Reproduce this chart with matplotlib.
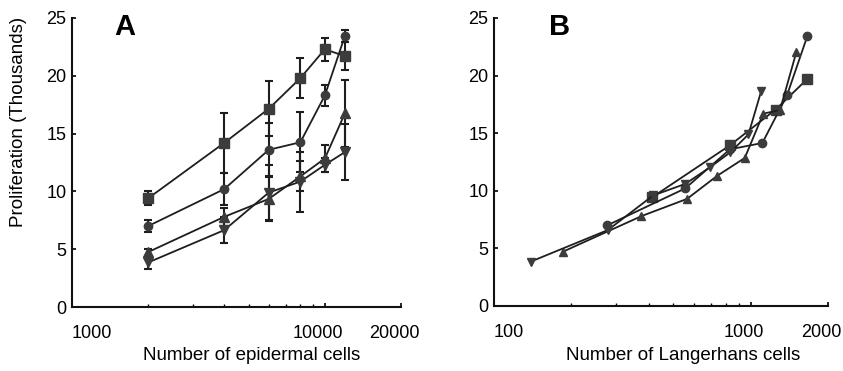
import matplotlib.pyplot as plt
from matplotlib.ticker import FixedLocator, NullFormatter
from matplotlib.transforms import ScaledTranslation

plt.rcParams['font.family'] = ['Liberation Sans', 'DejaVu Sans']

# Panel A: proliferation vs number of epidermal cells
cells_a = [2000, 4000, 6000, 8000, 10000, 12000]
sq_a = [9.4, 14.2, 17.15, 19.8, 22.3, 21.7]
sq_a_err = [0.6, 2.6, 2.4, 1.7, 1.0, 1.2]
ci_a = [7.0, 10.2, 13.6, 14.25, 18.3, 23.45]
ci_a_err = [0.5, 1.4, 2.3, 2.6, 0.9, 0.5]
up_a = [4.75, 7.8, 9.35, 11.3, 12.85, 16.75]
up_a_err = [0.3, 0.8, 1.9, 1.3, 1.2, 2.9]
dn_a = [3.85, 6.65, 9.9, 10.85, 12.3, 13.4]
dn_a_err = [0.6, 1.1, 2.4, 2.6, 0.6, 2.4]

# Panel B: proliferation vs number of Langerhans cells
sq_b_x = [414, 830, 1250, 1660]
sq_b = [9.45, 13.95, 17.05, 19.7]
ci_b_x = [276, 555, 830, 1110, 1385, 1660]
ci_b = [7.0, 10.2, 13.6, 14.15, 18.3, 23.4]
up_b_x = [185, 375, 565, 740, 948, 1119, 1300, 1506]
up_b = [4.7, 7.8, 9.3, 11.3, 12.85, 16.7, 17.0, 22.05]
dn_b_x = [139, 278, 417, 556, 695, 834, 980, 1100]
dn_b = [3.85, 6.6, 9.6, 10.6, 12.05, 13.35, 14.9, 18.7]

yticks = [0, 5, 10, 15, 20, 25]

lc = '#1e1e1e'
mc = '#3c3c3c'

fig = plt.figure(figsize=(8.43, 3.71), dpi=100)
W, H = 843, 371
axA = fig.add_axes([72 / W, (H - 307) / H, 329 / W, 289 / H])
axB = fig.add_axes([494 / W, (H - 306) / H, 334 / W, 288 / H])

# series in A with error bars
for y, e, m, ms in [(sq_a, sq_a_err, 's', 6.5), (ci_a, ci_a_err, 'o', 6),
                    (up_a, up_a_err, '^', 6.5), (dn_a, dn_a_err, 'v', 6.5)]:
    axA.errorbar(cells_a, y, yerr=e, marker=m, ms=ms, color=lc, mfc=mc, mec=mc,
                 lw=1.3, elinewidth=1.5, capsize=3, capthick=1.5)

for x, y, m, ms in [(sq_b_x, sq_b, 's', 6.5), (ci_b_x, ci_b, 'o', 6),
                    (up_b_x, up_b, '^', 5.5), (dn_b_x, dn_b, 'v', 5.5)]:
    axB.plot(x, y, marker=m, ms=ms, color=lc, mfc=mc, mec=mc, lw=1.3)

def style(ax, xlim, majors, labels, minors):
    ax.set_xscale('log')
    ax.set_xlim(*xlim)
    ax.set_ylim(0, 25)
    ax.set_yticks(yticks)
    ax.set_yticklabels([str(t) for t in yticks])
    ax.xaxis.set_major_locator(FixedLocator(majors))
    ax.set_xticklabels(labels)
    ax.xaxis.set_minor_locator(FixedLocator(minors))
    ax.xaxis.set_minor_formatter(NullFormatter())
    for s in ['top', 'right']:
        ax.spines[s].set_visible(False)
    for s in ['left', 'bottom']:
        ax.spines[s].set_linewidth(1.5)
        ax.spines[s].set_color('#111111')
    ax.tick_params(axis='y', direction='in', length=3, width=1.2, labelsize=13, pad=4)
    ax.tick_params(axis='x', which='major', direction='in', length=3, width=1.2,
                   labelsize=13, pad=13)
    ax.tick_params(axis='x', which='minor', direction='in', length=2.5, width=1.0)
    tl = ax.get_xticklabels()
    tl[0].set_ha('left')
    # nudge the right-hand labels a little to the left, as in the original
    shift = ScaledTranslation(-7 / 100, 0, fig.dpi_scale_trans)
    for t in tl[1:]:
        t.set_transform(t.get_transform() + shift)

style(axA, (1000, 20000), [1000, 10000, 20000], ['1000', '10000', '20000'],
      [2000, 3000, 4000, 5000, 6000, 7000, 8000, 9000])
style(axB, (100, 2000), [100, 1000, 2000], ['100', '1000', '2000'],
      [200, 300, 400, 500, 600, 700, 800, 900])

axA.text(0.13, 0.97, 'A', transform=axA.transAxes, fontsize=21, fontweight='bold',
         va='center', ha='left')
axB.text(0.165, 0.97, 'B', transform=axB.transAxes, fontsize=21, fontweight='bold',
         va='center', ha='left')

fig.text(19 / W, 1 - 122 / H, 'Proliferation (Thousands)', rotation=90,
         ha='center', va='center', fontsize=13.5)
fig.text(252 / W, 1 - 356 / H, 'Number of epidermal cells', ha='center', va='center',
         fontsize=13.5)
fig.text(683 / W, 1 - 356 / H, 'Number of Langerhans cells', ha='center', va='center',
         fontsize=13.5)

fig.savefig('out.png', dpi=100)
